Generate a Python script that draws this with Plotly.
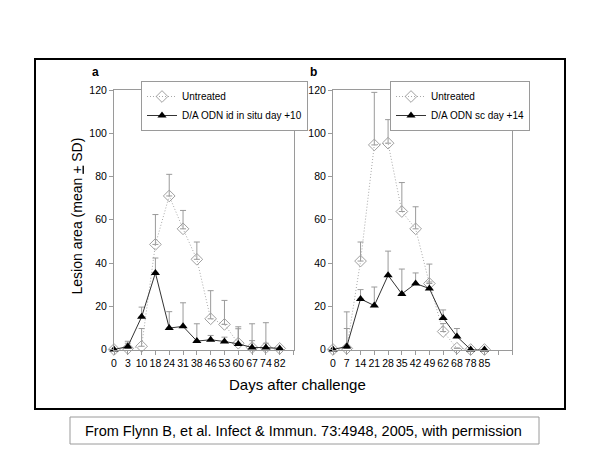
import plotly.graph_objects as go

# ---- data ----
days_a = ["0", "3", "10", "18", "24", "31", "38", "46", "53", "60", "67", "74", "82"]
untreated_a = [0, 0.5, 1.5, 48.6, 71.0, 55.8, 41.7, 14.2, 11.6, 2.9, 0.9, 0.9, 0.5]
untreated_a_sd = [0, 3.3, 8.2, 13.8, 10.0, 8.5, 8.0, 13.0, 11.1, 7.6, 11.0, 11.5, 0]
treated_a = [0, 1.4, 15.1, 35.4, 9.9, 10.7, 3.9, 4.5, 3.7, 2.6, 0.9, 0.9, 0.5]
treated_a_sd = [0, 1.5, 4.5, 6.9, 7.6, 10.9, 8.0, 2.0, 2.0, 7.0, 3.2, 2.0, 0]

days_b = ["0", "7", "14", "21", "28", "35", "42", "49", "62", "68", "78", "85"]
untreated_b = [0, 0.5, 40.9, 94.6, 95.4, 63.8, 55.8, 30.5, 8.3, 0.6, 0, 0]
untreated_b_sd = [0, 16.9, 8.8, 24.3, 10.9, 13.4, 10.2, 9.0, 3.7, 0, 0, 0]
treated_b = [0, 1.4, 23.4, 20.3, 34.3, 25.7, 30.5, 28.2, 14.6, 6.0, 0, 0]
treated_b_sd = [0, 8.3, 4.3, 8.6, 11.2, 11.5, 4.9, 3.0, 3.7, 3.7, 0, 0]

legend_a = ["Untreated", "D/A ODN id in situ day +10"]
legend_b = ["Untreated", "D/A ODN sc day +14"]
y_ticks = [0, 20, 40, 60, 80, 100, 120]

FONT = "Liberation Sans, Arial, sans-serif"
GRAY = "#9a9a9a"

# page body has an 8px margin; the figure fills the rest of the 600x450 window
OFF = 8
W, H = 600 - OFF, 450 - OFF


def px(X):
    return (X - OFF) / W


def py(Y):
    return 1 - (Y - OFF) / H


fig = go.Figure()


def add_panel(days, unt, unt_sd, trt, trt_sd, names, xa, ya, legend):
    xs = list(range(len(days)))
    fig.add_trace(go.Scatter(
        x=xs, y=unt, name=names[0], mode="lines+markers", xaxis=xa, yaxis=ya,
        legend=legend, cliponaxis=False,
        line=dict(color="#a8a8a8", width=1, dash="1px,2px"),
        marker=dict(symbol="diamond-open", size=9, color="#a0a0a0", line=dict(width=1)),
        error_y=dict(type="data", array=unt_sd, arrayminus=[0] * len(unt_sd),
                     symmetric=False, color=GRAY, thickness=1, width=3),
    ))
    fig.add_trace(go.Scatter(
        x=xs, y=trt, name=names[1], mode="lines+markers", xaxis=xa, yaxis=ya,
        legend=legend, cliponaxis=False,
        line=dict(color="#333333", width=1),
        marker=dict(symbol="triangle-up", size=8, color="black"),
        error_y=dict(type="data", array=trt_sd, arrayminus=[0] * len(trt_sd),
                     symmetric=False, color=GRAY, thickness=1, width=3),
    ))


add_panel(days_a, untreated_a, untreated_a_sd, treated_a, treated_a_sd, legend_a, "x", "y", "legend")
add_panel(days_b, untreated_b, untreated_b_sd, treated_b, treated_b_sd, legend_b, "x2", "y2", "legend2")

ydom = [py(349.5), py(90)]


def xaxis_cfg(days, dom, anchor):
    n = len(days)
    return dict(domain=dom, range=[0, 13], tickvals=list(range(14)),
                ticktext=days + [""] * (14 - n), showline=True, mirror=True,
                linecolor=GRAY, linewidth=1, ticks="outside", ticklen=4,
                tickcolor=GRAY, showgrid=False, zeroline=False, anchor=anchor,
                tickangle=0, automargin=False,
                tickfont=dict(size=10.5, color="black", family=FONT))


def yaxis_cfg(anchor):
    return dict(domain=ydom, range=[0, 120], tickvals=y_ticks, showline=True, mirror=True,
                linecolor=GRAY, linewidth=1, ticks="outside", ticklen=4,
                tickcolor=GRAY, showgrid=False, zeroline=False, anchor=anchor,
                automargin=False,
                tickfont=dict(size=10.5, color="black", family=FONT))


legend_style = dict(bgcolor="white", bordercolor=GRAY, borderwidth=1,
                    font=dict(size=10, family=FONT, color="black"),
                    xanchor="left", yanchor="top", tracegroupgap=0, itemwidth=30)


def note(text, X, Y, size, **kw):
    return dict(text=text, x=px(X), y=py(Y), xref="paper", yref="paper",
                xanchor="center", yanchor="middle", showarrow=False,
                font=dict(size=size), **kw)


fig.update_layout(
    template="none",
    width=W, height=H, margin=dict(l=0, r=0, t=0, b=0, autoexpand=False),
    paper_bgcolor="white", plot_bgcolor="white",
    font=dict(family=FONT, color="black"),
    xaxis=xaxis_cfg(days_a, [px(114), px(293.5)], "y"),
    yaxis=yaxis_cfg("x"),
    xaxis2=xaxis_cfg(days_b, [px(333), px(512)], "y2"),
    yaxis2=yaxis_cfg("x2"),
    legend=dict(x=px(141), y=py(81), **legend_style),
    legend2=dict(x=px(390), y=py(81), **legend_style),
    shapes=[
        dict(type="rect", xref="paper", yref="paper", x0=px(35), x1=px(565),
             y0=py(409), y1=py(59), line=dict(color="black", width=2)),
        dict(type="rect", xref="paper", yref="paper", x0=px(70), x1=px(539),
             y0=py(444), y1=py(417), line=dict(color=GRAY, width=1)),
    ],
    annotations=[
        note("<b>a</b>", 95, 72, 12),
        note("<b>b</b>", 313, 72, 12),
        note("Lesion area (mean <u>+</u> SD)", 76, 216.5, 14, textangle=-90),
        note("Days after challenge", 297.5, 384, 15),
        note("From Flynn B, et al. Infect &amp; Immun. 73:4948, 2005, with permission",
             303, 430.5, 14.5),
    ],
)

fig.write_html("out.html")
